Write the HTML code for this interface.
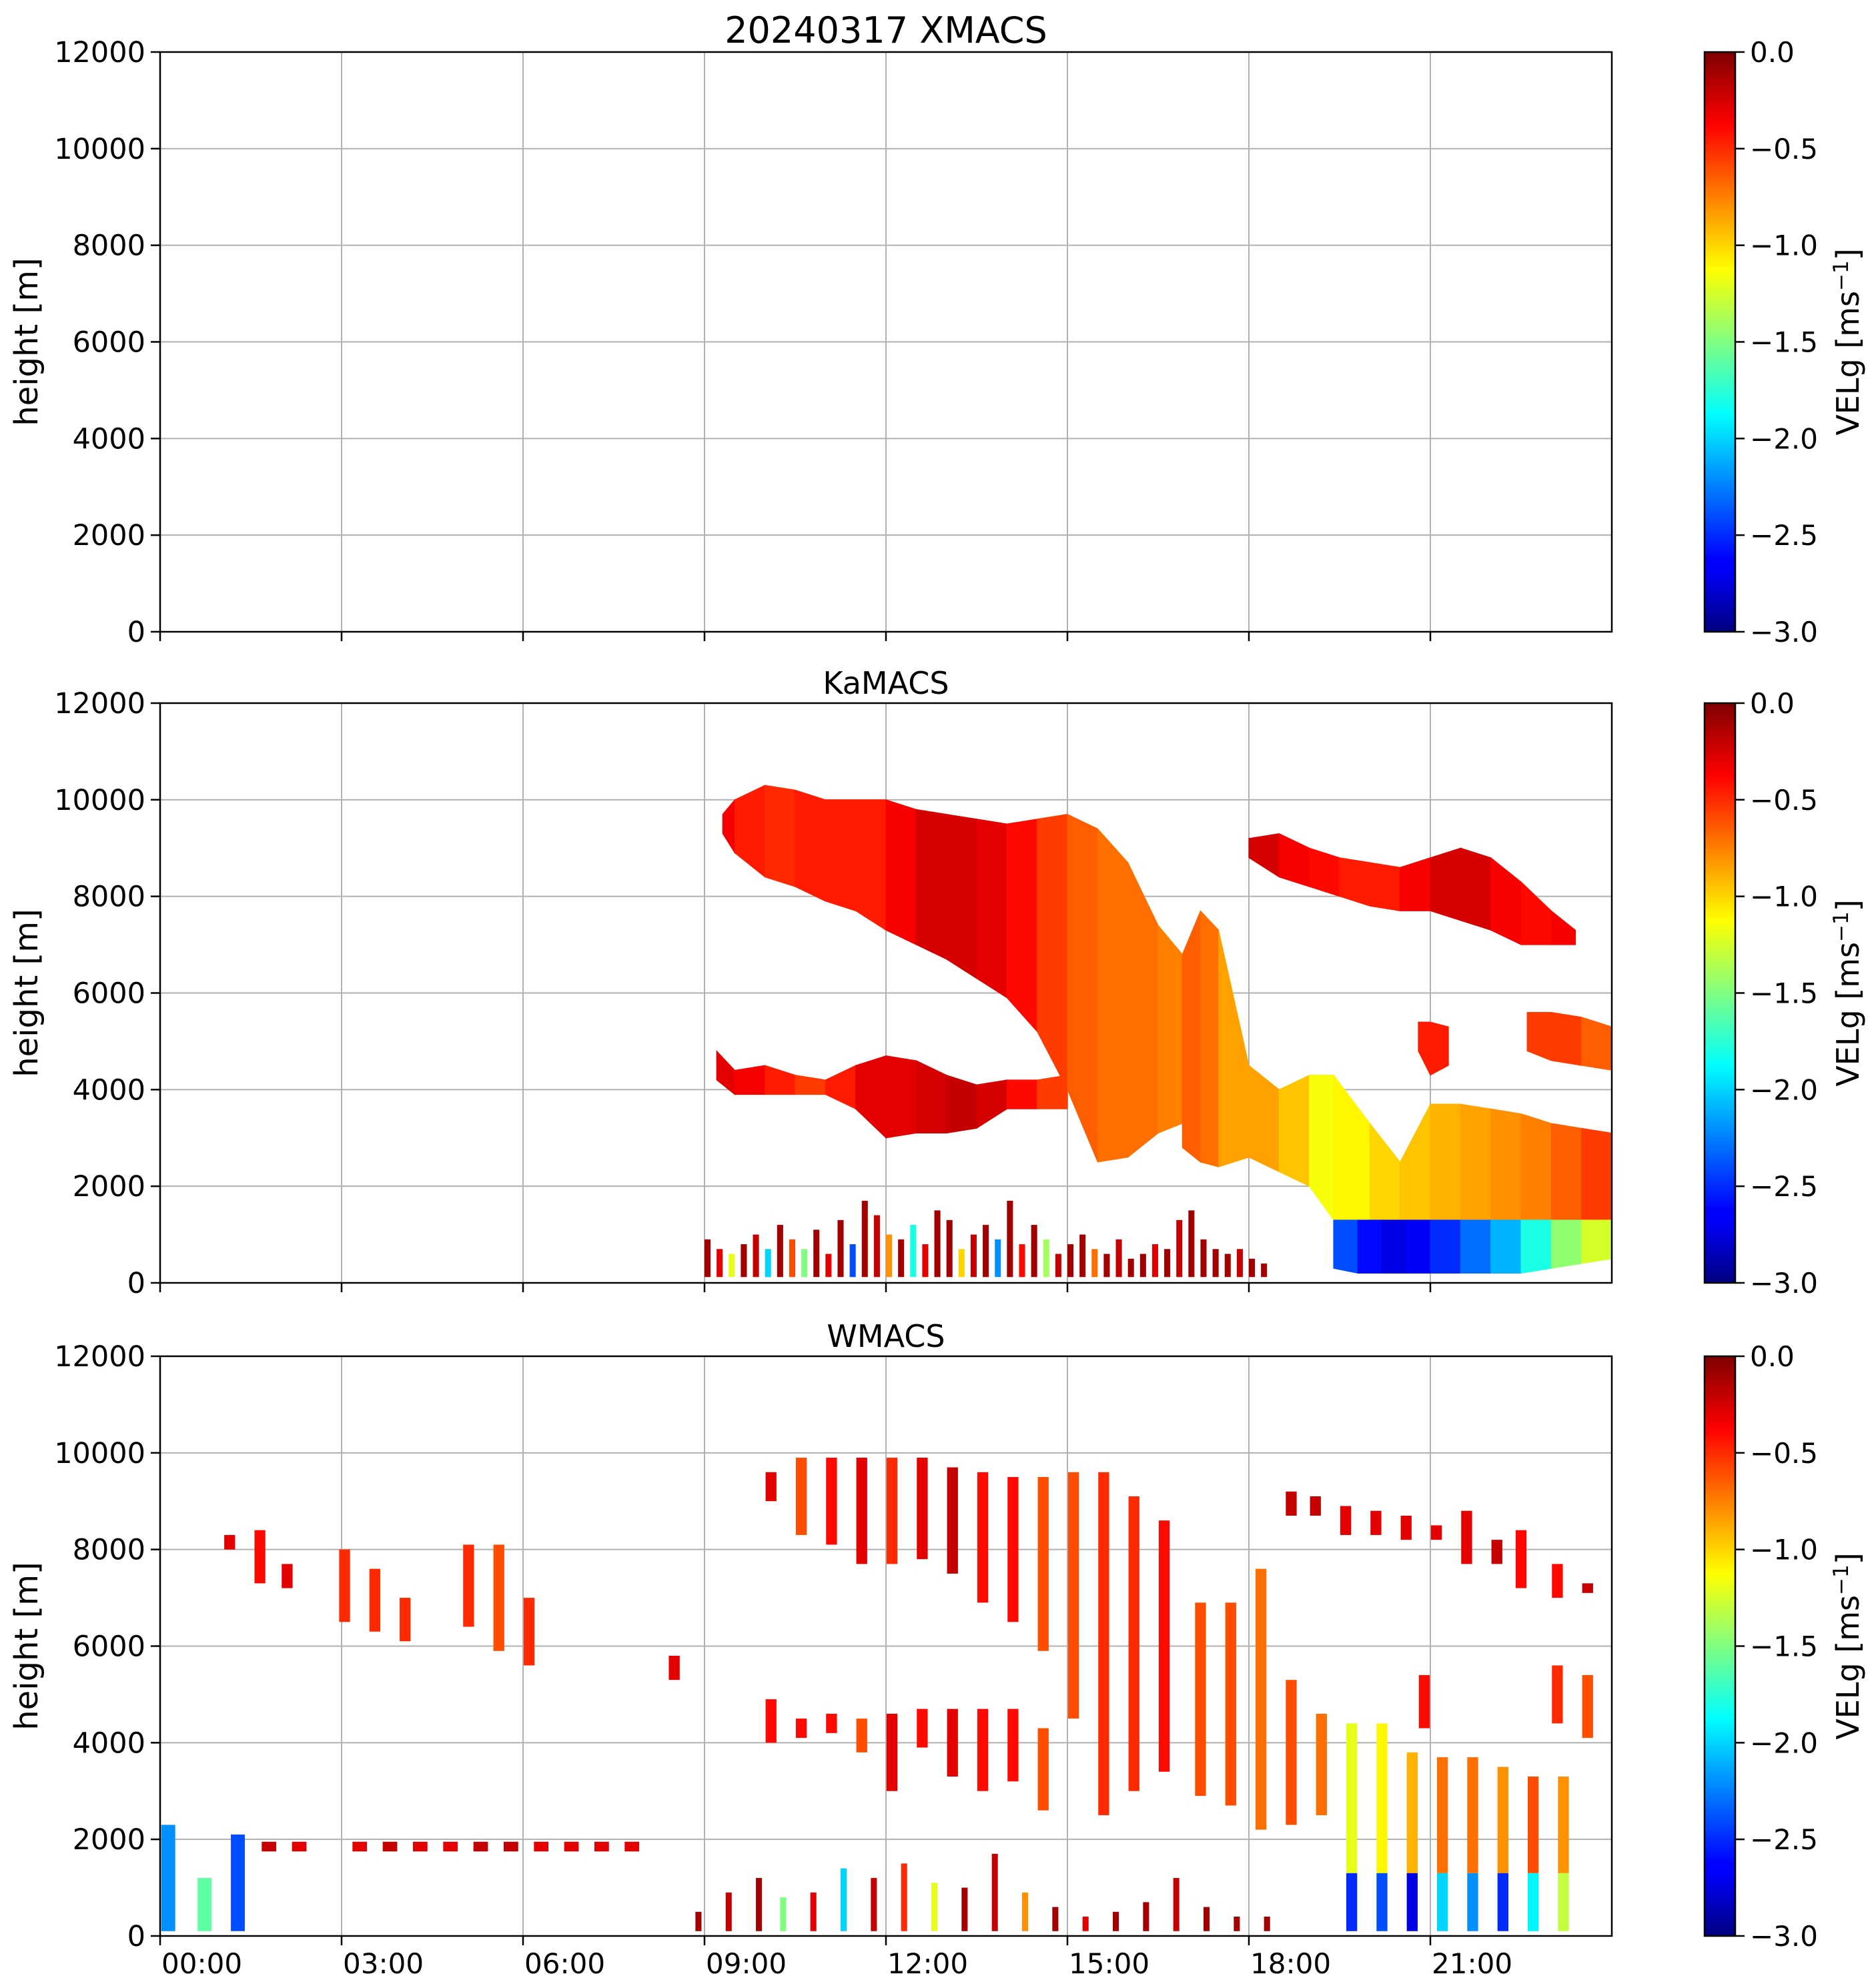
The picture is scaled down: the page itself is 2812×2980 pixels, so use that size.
<!DOCTYPE html>
<html><head><meta charset="utf-8"><style>
body{margin:0;background:#fff}
svg{display:block}
text{font-family:"DejaVu Sans","Liberation Sans",sans-serif;fill:#000}
</style></head><body>
<svg id="fig" xmlns="http://www.w3.org/2000/svg" width="2812" height="2980" viewBox="0 0 2812 2980">
<defs>
<linearGradient id="jetg" x1="0" y1="1" x2="0" y2="0">
<stop offset="0" stop-color="#00007f"/><stop offset="0.11" stop-color="#0000ff"/><stop offset="0.125" stop-color="#0000ff"/><stop offset="0.375" stop-color="#00ffff"/><stop offset="0.5" stop-color="#80ff80"/><stop offset="0.625" stop-color="#ffff00"/><stop offset="0.875" stop-color="#ff0000"/><stop offset="1" stop-color="#7f0000"/>
</linearGradient>
</defs>
<g id="layer"></g>
</svg>
<script>
// ---- data (hours, metres, m/s) ----
const hourTicks = [0,3,6,9,12,15,18,21];
const hourLabels = ["00:00","03:00","06:00","09:00","12:00","15:00","18:00","21:00"];
const heightTicks = [0,2000,4000,6000,8000,10000,12000];
const cbTicks = [0,-0.5,-1,-1.5,-2,-2.5,-3];
const cbLabels = ["0.0","\u22120.5","\u22121.0","\u22121.5","\u22122.0","\u22122.5","\u22123.0"];
const panelTitles = ["20240317 XMACS","KaMACS","WMACS"];

// KaMACS layers
const kaL1_t = [9.3,9.5,10,10.5,11,11.5,12,12.5,13,13.5,14,14.5,15,15.5,16,16.5,16.9];
const kaL1_top = [9700,10000,10300,10200,10000,10000,10000,9800,9700,9600,9500,9600,9700,9400,8700,7400,6800];
const kaL1_bot = [9300,8900,8400,8200,7900,7700,7300,7000,6700,6300,5900,5200,4000,2500,2600,3100,3300];
const kaL1_val = [-0.3,-0.4,-0.5,-0.5,-0.4,-0.5,-0.4,-0.3,-0.2,-0.3,-0.3,-0.5,-0.6,-0.7,-0.7,-0.7,-0.8];
const kaL2_t = [16.9,17.2,17.5,18,18.5,19,19.4,20,20.5,21,21.5,22,22.5,23,23.5,24];
const kaL2_top = [6800,7700,7300,4500,4000,4300,4300,3300,2500,3700,3700,3600,3500,3300,3200,3100];
const kaL2_bot = [2800,2500,2400,2600,2300,2000,1300,1300,1300,1300,1300,1300,1300,1300,1300,1300];
const kaL2_val = [-0.7,-0.6,-0.8,-0.9,-0.8,-1.1,-1.2,-1.0,-1.0,-0.9,-0.9,-0.8,-0.8,-0.7,-0.6,-0.5];
const kaL3_t = [19.4,19.8,20.2,20.6,21,21.5,22,22.5,23,23.5,24];
const kaL3_top = [1300,1300,1300,1300,1300,1300,1300,1300,1300,1300,1300];
const kaL3_bot = [300,200,200,200,200,200,200,200,300,400,500];
const kaL3_val = [-2.3,-2.5,-2.7,-2.7,-2.6,-2.4,-2.2,-2.0,-1.6,-1.3,-1.2];
const kaL4_t = [9.2,9.5,10,10.5,11,11.5,12,12.5,13,13.5,14,14.5,15];
const kaL4_top = [4800,4400,4500,4300,4200,4500,4700,4600,4300,4100,4200,4200,4300];
const kaL4_bot = [4200,3900,3900,3900,3900,3600,3000,3100,3100,3200,3600,3600,3600];
const kaL4_val = [-0.3,-0.3,-0.4,-0.5,-0.6,-0.3,-0.3,-0.3,-0.2,-0.2,-0.3,-0.5,-0.6];
const kaL5_t = [18,18.5,19,19.5,20,20.5,21,21.5,22,22.5,23,23.4];
const kaL5_top = [9200,9300,9000,8800,8700,8600,8800,9000,8800,8300,7700,7300];
const kaL5_bot = [8800,8400,8200,8000,7800,7700,7700,7500,7300,7000,7000,7000];
const kaL5_val = [-0.2,-0.3,-0.4,-0.4,-0.5,-0.4,-0.3,-0.2,-0.3,-0.4,-0.4,-0.3];
const kaL6_t = [20.8,21,21.3];
const kaL6_top = [5400,5400,5300];
const kaL6_bot = [4800,4300,4500];
const kaL6_val = [-0.5,-0.4,-0.5];
const kaL7_t = [22.6,23,23.5,24];
const kaL7_top = [5600,5600,5500,5300];
const kaL7_bot = [4800,4600,4500,4400];
const kaL7_val = [-0.6,-0.5,-0.6,-0.7];
const kaClutT = [9.05,9.25,9.45,9.65,9.85,10.05,10.25,10.45,10.65,10.85,11.05,11.25,11.45,11.65,11.85,12.05,12.25,12.45,12.65,12.85,13.05,13.25,13.45,13.65,13.85,14.05,14.25,14.45,14.65,14.85,15.05,15.25,15.45,15.65,15.85,16.05,16.25,16.45,16.65,16.85,17.05,17.25,17.45,17.65,17.85,18.05,18.25];
const kaClutTop = [900,700,600,800,1000,700,1200,900,700,1100,600,1300,800,1700,1400,1000,900,1200,800,1500,1300,700,1000,1200,900,1700,800,1200,900,600,800,1000,700,600,900,500,600,800,700,1300,1500,900,700,600,700,500,400];
const kaClutVal = [-0.1,-0.3,-1.2,-0.1,-0.2,-2.0,-0.1,-0.6,-1.5,-0.1,-0.3,-0.1,-2.4,-0.1,-0.2,-0.8,-0.1,-1.8,-0.3,-0.1,-0.1,-1.0,-0.2,-0.1,-2.2,-0.1,-0.4,-0.1,-1.4,-0.2,-0.1,-0.1,-0.7,-0.1,-0.2,-0.1,-0.1,-0.3,-0.1,-0.2,-0.1,-0.1,-0.1,-0.1,-0.2,-0.1,-0.1];

// WMACS stripes
const wT = [1.15,1.65,2.1,3.05,3.55,4.05,5.1,5.6,6.1,8.5,10.1,10.6,11.1,11.6,12.1,12.6,13.1,13.6,14.1,14.6,15.1,15.6,16.1,16.6,17.2,17.7,18.2,18.7,19.1,19.6,20.1,20.6,21.1,21.6,22.1,22.5,23.1,23.6,10.1,10.6,11.1,11.6,12.1,12.6,13.1,13.6,14.1,14.6,18.7,19.2,20.9,23.1,23.6];
const wTop = [8300,8400,7700,8000,7600,7000,8100,8100,7000,5800,9600,9900,9900,9900,9900,9900,9700,9600,9500,9500,9600,9600,9100,8600,6900,6900,7600,9200,9100,8900,8800,8700,8500,8800,8200,8400,7700,7300,4900,4500,4600,4500,4600,4700,4700,4700,4700,4300,5300,4600,5400,5600,5400];
const wBot = [8000,7300,7200,6500,6300,6100,6400,5900,5600,5300,9000,8300,8100,7700,7700,7800,7500,6900,6500,5900,4500,2500,3000,3400,2900,2700,2200,8700,8700,8300,8300,8200,8200,7700,7700,7200,7000,7100,4000,4100,4200,3800,3000,3900,3300,3000,3200,2600,2300,2500,4300,4400,4100];
const wVal = [-0.3,-0.4,-0.3,-0.5,-0.5,-0.5,-0.5,-0.6,-0.5,-0.3,-0.3,-0.6,-0.4,-0.3,-0.5,-0.3,-0.2,-0.4,-0.4,-0.6,-0.6,-0.5,-0.5,-0.4,-0.6,-0.6,-0.7,-0.2,-0.2,-0.3,-0.3,-0.3,-0.3,-0.3,-0.2,-0.4,-0.4,-0.2,-0.4,-0.4,-0.4,-0.6,-0.3,-0.4,-0.3,-0.4,-0.4,-0.6,-0.6,-0.7,-0.4,-0.5,-0.6];
const wLowT = [19.7,20.2,20.7,21.2,21.7,22.2,22.7,23.2];
const wLowTop = [4400,4400,3800,3700,3700,3500,3300,3300];
const wLowMidVal = [-1.2,-1.1,-0.9,-0.7,-0.7,-0.8,-0.6,-0.8];
const wLowBotVal = [-2.5,-2.4,-2.7,-2.0,-2.2,-2.5,-1.9,-1.3];
const wEarlyT = [0.05,0.65,1.2];
const wEarlyTop = [2300,1200,2100];
const wEarlyVal = [-2.2,-1.6,-2.4];
const wBandT = [1.8,2.3,3.3,3.8,4.3,4.8,5.3,5.8,6.3,6.8,7.3,7.8];
const wBandVal = [-0.2,-0.3,-0.3,-0.2,-0.3,-0.3,-0.2,-0.2,-0.3,-0.3,-0.3,-0.3];
const wClutT = [8.9,9.4,9.9,10.3,10.8,11.3,11.8,12.3,12.8,13.3,13.8,14.3,14.8,15.3,15.8,16.3,16.8,17.3,17.8,18.3];
const wClutTop = [500,900,1200,800,900,1400,1200,1500,1100,1000,1700,900,600,400,500,700,1200,600,400,400];
const wClutVal = [-0.1,-0.2,-0.1,-1.5,-0.3,-2.0,-0.2,-0.5,-1.2,-0.1,-0.2,-0.8,-0.1,-0.3,-0.1,-0.1,-0.2,-0.1,-0.1,-0.1];

// ---- geometry ----
const AX_L = 240, AX_R = 2416;
const panels = [{top:78,bot:947},{top:1054,bot:1923},{top:2033,bot:2902}];
const CB_L = 2555, CB_R = 2601;
const NS = "http://www.w3.org/2000/svg";
const root = document.getElementById('layer');
function xS(h){ return AX_L + h/24*(AX_R-AX_L); }
function yS(p,m){ return p.bot - m/12000*(p.bot-p.top); }
function cbY(p,v){ return p.bot - (v+3)/3*(p.bot-p.top); }
function clamp(a){ return Math.max(0,Math.min(1,a)); }
function jet(v){
  const t = clamp((v+3)/3);
  const r = clamp(1.5-Math.abs(4*t-3)), g = clamp(1.5-Math.abs(4*t-2)), b = clamp(1.5-Math.abs(4*t-1));
  return `rgb(${Math.round(r*255)},${Math.round(g*255)},${Math.round(b*255)})`;
}
function mk(tag, attrs, parent){
  const e = document.createElementNS(NS, tag);
  for (const k in attrs) e.setAttribute(k, attrs[k]);
  (parent||root).appendChild(e);
  return e;
}
function drawLayer(p, g, ts, tops, bots, vals, name){
  for (let i=0;i<ts.length-1;i++){
    const pts = [[xS(ts[i]),yS(p,tops[i])],[xS(ts[i+1]),yS(p,tops[i+1])],[xS(ts[i+1]),yS(p,bots[i+1])],[xS(ts[i]),yS(p,bots[i])]];
    const c = jet((vals[i]+vals[i+1])/2);
    const el = mk('polygon',{points:pts.map(q=>q.join(',')).join(' '),fill:c,stroke:c,'stroke-width':1},g);
    
    
  }
}
function rect(p, g, h0, h1, m0, m1, v, name){
  const el = mk('rect',{x:xS(h0),y:yS(p,m1),width:Math.max(1,xS(h1)-xS(h0)),height:Math.max(1,yS(p,m0)-yS(p,m1)),fill:jet(v)},g);
  
  
}

panels.forEach((p,pi)=>{
  const g = mk('g',{});
  
  
  hourTicks.forEach(h=>{
    const l = mk('line',{x1:xS(h),x2:xS(h),y1:p.top,y2:p.bot,stroke:'#b0b0b0','stroke-width':2},g);
    
    
  });
  heightTicks.forEach(m=>{
    const l = mk('line',{x1:AX_L,x2:AX_R,y1:yS(p,m),y2:yS(p,m),stroke:'#b0b0b0','stroke-width':2},g);
    
    
  });
  const d = mk('g',{},g);
  
  
  if (pi===1){
    kaClutT.forEach((t,i)=>rect(p,d,t-0.05,t+0.05,120,kaClutTop[i],kaClutVal[i],'clutter-column'));
    drawLayer(p,d,kaL4_t,kaL4_top,kaL4_bot,kaL4_val,'mid-cloud-layer');
    drawLayer(p,d,kaL1_t,kaL1_top,kaL1_bot,kaL1_val,'upper-cloud-layer');
    drawLayer(p,d,kaL2_t,kaL2_top,kaL2_bot,kaL2_val,'lower-cloud-layer');
    drawLayer(p,d,kaL3_t,kaL3_top,kaL3_bot,kaL3_val,'precip-layer');
    drawLayer(p,d,kaL5_t,kaL5_top,kaL5_bot,kaL5_val,'evening-cirrus');
    drawLayer(p,d,kaL6_t,kaL6_top,kaL6_bot,kaL6_val,'mid-patch');
    drawLayer(p,d,kaL7_t,kaL7_top,kaL7_bot,kaL7_val,'mid-patch');
  }
  if (pi===2){
    wBandT.forEach((t,i)=>rect(p,d,t-0.12,t+0.12,1750,1950,wBandVal[i],'low-band'));
    wEarlyT.forEach((t,i)=>rect(p,d,t-0.03,t+0.2,100,wEarlyTop[i],wEarlyVal[i],'early-echo'));
    wClutT.forEach((t,i)=>rect(p,d,t-0.05,t+0.05,100,wClutTop[i],wClutVal[i],'clutter-column'));
    wT.forEach((t,i)=>rect(p,d,t-0.09,t+0.09,wBot[i],wTop[i],wVal[i],'cloud-stripe'));
    wLowT.forEach((t,i)=>{
      rect(p,d,t-0.09,t+0.09,1300,wLowTop[i],wLowMidVal[i],'evening-stripe-upper');
      rect(p,d,t-0.09,t+0.09,100,1300,wLowBotVal[i],'evening-stripe-lower');
    });
  }
  const fr = mk('rect',{x:AX_L,y:p.top,width:AX_R-AX_L,height:p.bot-p.top,fill:'none',stroke:'#000','stroke-width':2.5},g);
  
  
  heightTicks.forEach(m=>{
    const y = yS(p,m);
    const tk = mk('line',{x1:AX_L-14,x2:AX_L,y1:y,y2:y,stroke:'#000','stroke-width':2.5},g);
    
    
    const tx = mk('text',{x:AX_L-22,y:y+15,'text-anchor':'end','font-size':43},g);
    tx.textContent = m;
    
    
  });
  hourTicks.forEach((h,i)=>{
    const tk = mk('line',{x1:xS(h),x2:xS(h),y1:p.bot,y2:p.bot+14,stroke:'#000','stroke-width':2.5},g);
    
    
    if (pi===2){
      const tx = mk('text',{x:xS(h)+2,y:p.bot+56,'font-size':42},g);
      tx.textContent = hourLabels[i];
      
      
    }
  });
  const yl = mk('text',{x:56,y:(p.top+p.bot)/2,'text-anchor':'middle','font-size':48,transform:`rotate(-90 56 ${(p.top+p.bot)/2})`},g);
  yl.textContent = 'height [m]';
  
  
  const ti = mk('text',{x:(AX_L+AX_R)/2,y:p.top-14,'text-anchor':'middle','font-size':pi===0?54:46},g);
  ti.textContent = panelTitles[pi];
  
  
  const cb = mk('rect',{x:CB_L,y:p.top,width:CB_R-CB_L,height:p.bot-p.top,fill:'url(#jetg)',stroke:'#000','stroke-width':2.5},g);
  
  
  cbTicks.forEach((v,i)=>{
    const y = cbY(p,v);
    const tk = mk('line',{x1:CB_R,x2:CB_R+14,y1:y,y2:y,stroke:'#000','stroke-width':2.5},g);
    
    
    const tx = mk('text',{x:CB_R+22,y:y+15,'font-size':42},g);
    tx.textContent = cbLabels[i];
    
    
  });
  const cy = (p.top+p.bot)/2;
  const cl = mk('text',{x:2786,y:cy,'text-anchor':'middle','font-size':46,transform:`rotate(-90 2786 ${cy})`},g);
  cl.innerHTML = 'VELg [ms<tspan dy="-16" font-size="31">\u22121</tspan><tspan dy="16">]</tspan>';
  
  
});
</script>
</body></html>
